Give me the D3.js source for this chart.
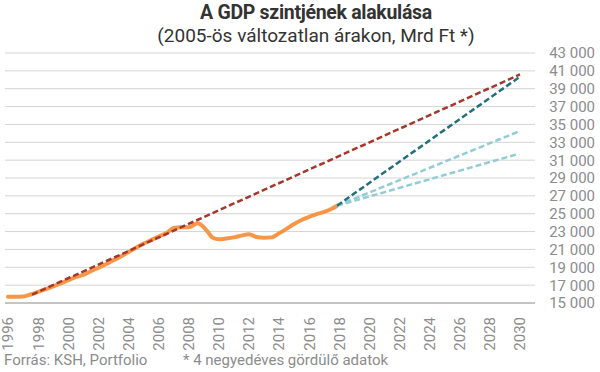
<!DOCTYPE html>
<html>
<head>
<meta charset="utf-8">
<script src="https://cdn.jsdelivr.net/npm/d3@7"></script>
<style>
  body { margin: 0; background: #fff; }
  text { font-family: Roboto, "Noto Sans", sans-serif; }
</style>
</head>
<body>
<script>
var w = 600;
var h = 372;

// GDP, 4 negyedéves gördülő (Mrd Ft, 2005-ös árakon)
var gdpYears = [1996, 1996.5, 1997, 1997.5, 1998, 1998.5, 1999, 1999.5, 2000, 2000.5,
  2001, 2001.5, 2002, 2002.5, 2003, 2003.5, 2004, 2004.5, 2005, 2005.5,
  2006, 2006.5, 2007, 2007.5, 2008, 2008.6, 2009.2, 2009.6, 2010, 2010.5,
  2011, 2011.5, 2012, 2012.5, 2013, 2013.5, 2014, 2014.5, 2015, 2015.5,
  2016, 2016.5, 2017, 2017.5, 2017.85];
var gdpValues = [15700, 15700, 15720, 15950, 16250, 16550, 16850, 17200, 17550, 17900,
  18150, 18550, 18950, 19350, 19800, 20200, 20700, 21200, 21650, 22050,
  22450, 22800, 23400, 23480, 23480, 23920, 23100, 22300, 22130, 22220,
  22350, 22550, 22700, 22400, 22320, 22350, 22800, 23300, 23850, 24300,
  24650, 24950, 25200, 25550, 25900];

// trendvonalak / pályák
var trendRed = [[1997.6, 15950], [2030, 40600]];
var pathDark = [[2017.85, 25900], [2030, 40350]];
var pathLight1 = [[2017.85, 25900], [2029.9, 34200]];
var pathLight2 = [[2017.85, 25900], [2029.9, 31700]];

var yTicks = d3.range(15000, 43001, 2000);
var xTicks = d3.range(1996, 2031, 2);

var svg = d3.select('body').append('svg')
  .attr('width', w)
  .attr('height', h);

var x = d3.scaleLinear().domain([1996, 2030]).range([8, 520]);
var y = d3.scaleLinear().domain([15000, 43000]).range([303, 53]);

var fmt = function(d) { return d3.format(',')(d).replace(/,/g, ' '); };

// title
svg.append('text')
  .attr('x', 316).attr('y', 19)
  .attr('text-anchor', 'middle')
  .attr('font-size', 19.5)
  .attr('font-weight', 'bold')
  .attr('letter-spacing', -0.3)
  .attr('fill', '#333')
  .text('A GDP szintjének alakulása');
svg.append('text')
  .attr('x', 316).attr('y', 42)
  .attr('text-anchor', 'middle')
  .attr('font-size', 19)
  .attr('fill', '#333')
  .text('(2005-ös változatlan árakon, Mrd Ft *)');

// grid
svg.append('g').selectAll('line')
  .data(yTicks.slice(1))
  .enter().append('line')
  .attr('x1', 5).attr('x2', 535)
  .attr('y1', function(d) { return y(d); })
  .attr('y2', function(d) { return y(d); })
  .attr('stroke', '#d4d4d4')
  .attr('stroke-width', 1);

svg.append('line')
  .attr('x1', 5).attr('x2', 535)
  .attr('y1', y(15000)).attr('y2', y(15000))
  .attr('stroke', '#8a8a8a')
  .attr('stroke-width', 1);

// y labels
svg.append('g').selectAll('text')
  .data(yTicks)
  .enter().append('text')
  .attr('x', 595)
  .attr('y', function(d) { return y(d); })
  .attr('dy', '0.36em')
  .attr('text-anchor', 'end')
  .attr('font-size', 15)
  .attr('fill', '#8c8c8c')
  .text(fmt);

// x labels
svg.append('g').selectAll('text')
  .data(xTicks)
  .enter().append('text')
  .attr('transform', function(d) { return 'translate(' + x(d) + ',317) rotate(-90)'; })
  .attr('dy', '0.36em')
  .attr('text-anchor', 'end')
  .attr('font-size', 15)
  .attr('fill', '#8c8c8c')
  .text(function(d) { return d; });

var line = d3.line()
  .x(function(d) { return x(d[0]); })
  .y(function(d) { return y(d[1]); });

var gdp = gdpYears.map(function(d, i) { return [d, gdpValues[i]]; });

svg.append('path')
  .datum(gdp)
  .attr('d', line.curve(d3.curveMonotoneX))
  .attr('fill', 'none')
  .attr('stroke', '#f79646')
  .attr('stroke-width', 4)
  .attr('stroke-linejoin', 'round')
  .attr('stroke-linecap', 'round');

line.curve(d3.curveLinear);

function dashed(data, color) {
  svg.append('path')
    .datum(data)
    .attr('d', line)
    .attr('fill', 'none')
    .attr('stroke', color)
    .attr('stroke-width', 2.5)
    .attr('stroke-dasharray', '6,3');
}
dashed(pathLight2, '#92cdd6');
dashed(pathLight1, '#92cdd6');
dashed(pathDark, '#22707e');
dashed(trendRed, '#a6372b');

// footer
svg.append('text')
  .attr('x', 4).attr('y', 365)
  .attr('font-size', 15)
  .attr('fill', '#8c8c8c')
  .text('Forrás: KSH, Portfolio');
svg.append('text')
  .attr('x', 183).attr('y', 365)
  .attr('font-size', 15)
  .attr('fill', '#8c8c8c')
  .text('* 4 negyedéves gördülő adatok');
</script>
</body>
</html>
